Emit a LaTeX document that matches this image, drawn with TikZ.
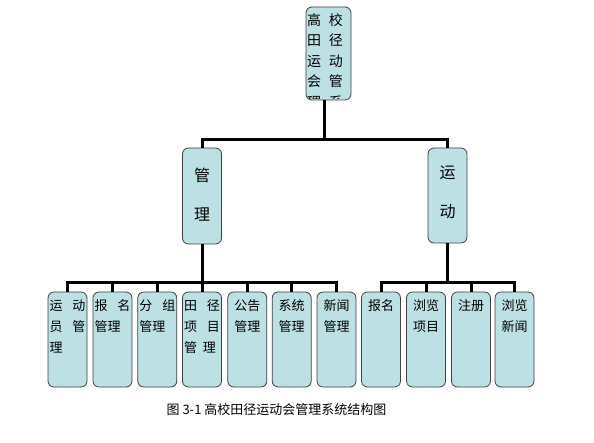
\documentclass[tikz,border=0pt]{standalone}
\usepackage{fontspec}
\setmainfont{Noto Sans CJK SC}
\begin{document}
\begin{tikzpicture}[x=1pt,y=-1pt,
  box/.style={draw=black!75, line width=0.8pt, fill=boxfill, rounded corners=6pt, inner sep=0pt},
  smallbox/.style={box, minimum width=39pt, minimum height=95pt},
  conn/.style={line width=3pt, black},
  btxt/.style={anchor=north, inner sep=0pt, font=\fontsize{13}{21}\selectfont, align=center}]
\definecolor{boxfill}{RGB}{189,224,228}
\newcommand\spr[2]{\makebox[36pt][s]{#1\hfill #2}}
\newcommand\sprw[2]{\makebox[36pt][s]{#1\hfill #2}}
\newcommand\lft[1]{\makebox[36pt][l]{#1}}
\fill[white] (0,0) rectangle (594,443);
\useasboundingbox (0,0) rectangle (594,443);

% top box
\node[box, minimum width=45pt, minimum height=93pt] (top) at (328.5,53.5) {};
\begin{scope}
  \clip (307,8) rectangle (350,99);
  \node[anchor=north, inner sep=0pt, font=\fontsize{14}{20.5}\selectfont, align=center] at (325,13)
    {\sprw{高}{校}\\ \sprw{田}{径}\\ \sprw{运}{动}\\ \sprw{会}{管}\\ \sprw{理}{系}};
\end{scope}

% second level
\node[box, minimum width=39pt, minimum height=96pt] (guan) at (202,196) {};
\node[font=\fontsize{16}{16}\selectfont, inner sep=0pt] at ([yshift=-28pt]guan.north) {管};
\node[font=\fontsize{16}{16}\selectfont, inner sep=0pt] at ([yshift=-67pt]guan.north) {理};
\node[box, minimum width=39pt, minimum height=95pt] (yun) at (447.5,195.5) {};
\node[font=\fontsize{16}{16}\selectfont, inner sep=0pt] at ([yshift=-25pt]yun.north) {运};
\node[font=\fontsize{16}{16}\selectfont, inner sep=0pt] at ([yshift=-64pt]yun.north) {动};

% bottom boxes
\node[smallbox] (b1) at (67.5,339.5) {};
\node[smallbox] (b2) at (112.5,339.5) {};
\node[smallbox] (b3) at (157.3,339.5) {};
\node[smallbox] (b4) at (202,339.5) {};
\node[smallbox] (b5) at (247.3,339.5) {};
\node[smallbox] (b6) at (291.7,339.5) {};
\node[smallbox] (b7) at (336.5,339.5) {};
\node[smallbox] (b8) at (381,339.5) {};
\node[smallbox] (b9) at (426,339.5) {};
\node[smallbox] (b10) at (471,339.5) {};
\node[smallbox] (b11) at (514.5,339.5) {};

\node[btxt] at ([yshift=-8pt]b1.north) {\spr{运}{动}\\ \spr{员}{管}\\ \lft{理}};
\node[btxt] at ([yshift=-8pt]b2.north) {\spr{报}{名}\\ \lft{管理}};
\node[btxt] at ([yshift=-8pt]b3.north) {\spr{分}{组}\\ \lft{管理}};
\node[btxt] at ([yshift=-8pt]b4.north) {\spr{田}{径}\\ \spr{项}{目}\\ \makebox[36pt][s]{管\hfill 理\hspace{4pt}}};
\node[btxt] at ([yshift=-8pt]b5.north) {公告\\管理};
\node[btxt] at ([yshift=-8pt]b6.north) {系统\\管理};
\node[btxt] at ([yshift=-8pt]b7.north) {新闻\\管理};
\node[btxt] at ([yshift=-8pt]b8.north) {报名};
\node[btxt] at ([yshift=-8pt]b9.north) {浏览\\项目};
\node[btxt] at ([yshift=-8pt]b10.north) {注册};
\node[btxt] at ([yshift=-8pt]b11.north) {浏览\\新闻};

% connectors
\coordinate (j1) at (324,140);
\coordinate (j2) at (202,283);
\coordinate (j3) at (447.5,283);
\draw[conn] (top.south -| j1) -- (j1);
\draw[conn] (guan.north) |- (j1);
\draw[conn] (yun.north) |- (j1);
\draw[conn] (guan.south) -- (j2);
\foreach \b in {b1,b2,b3,b4,b5,b6,b7} \draw[conn] (\b.north) |- (j2);
\draw[conn] (yun.south) -- (j3);
\foreach \b in {b8,b9,b10,b11} \draw[conn] (\b.north) |- (j3);

% caption
\node[font=\fontsize{13}{13}\selectfont, inner sep=0pt] (cap) at (276.5,410) {图 3-1 高校田径运动会管理系统结构图};
\end{tikzpicture}
\end{document}
